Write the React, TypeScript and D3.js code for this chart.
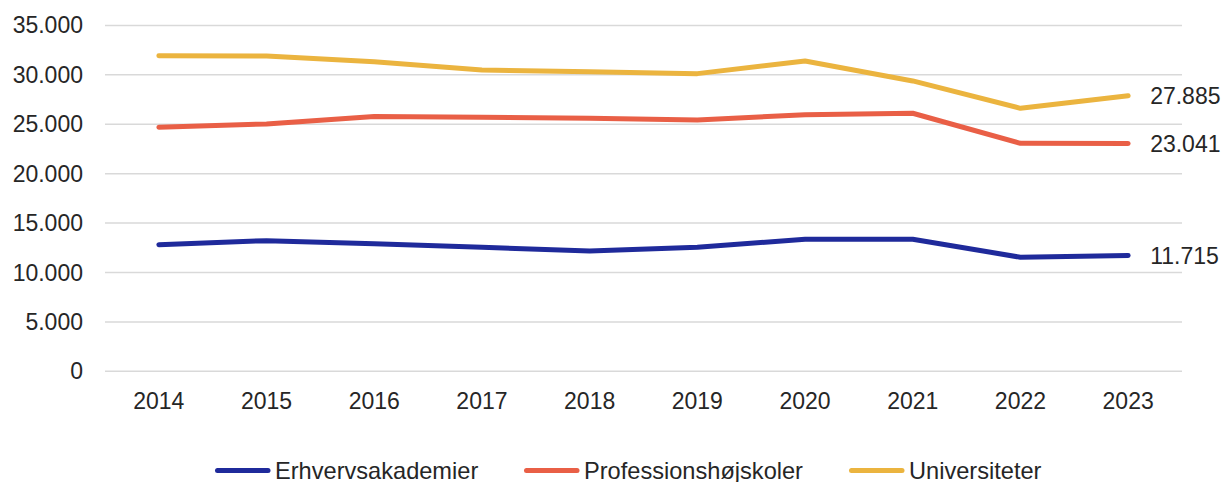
import React, { useEffect, useRef } from "react";
import * as d3 from "d3";

// Data
const years = ["2014", "2015", "2016", "2017", "2018", "2019", "2020", "2021", "2022", "2023"];
const erhvervsakademier = [12810, 13220, 12900, 12550, 12170, 12550, 13360, 13360, 11540, 11715];
const professionshojskoler = [24690, 25030, 25770, 25700, 25600, 25430, 25970, 26110, 23070, 23041];
const universiteter = [31940, 31910, 31320, 30490, 30320, 30120, 31400, 29380, 26610, 27885];
const yTicks = [0, 5000, 10000, 15000, 20000, 25000, 30000, 35000];

const seriesNames = ["Erhvervsakademier", "Professionshøjskoler", "Universiteter"];
const seriesColors = ["#1f2a9b", "#e95f46", "#ebb43f"];

const fmt = (v: number) => d3.format(",")(v).replace(/,/g, ".");

export default function App() {
  const svgRef = useRef<SVGSVGElement | null>(null);

  useEffect(() => {
    if (!svgRef.current) return;
    const svg = d3.select(svgRef.current);
    svg.selectAll("*").remove();

    const width = 1226;
    const height = 482;
    const font = "'Liberation Sans', Arial, sans-serif";
    const textColor = "#262626";

    svg.attr("width", width).attr("height", height);

    const x = d3.scaleBand<string>().domain(years).range([105, 1182]).padding(0);
    const y = d3.scaleLinear().domain([0, 35000]).range([371.3, 25.4]);
    const cx = (yr: string) => (x(yr) as number) + x.bandwidth() / 2;

    // gridlines
    svg
      .append("g")
      .selectAll("line")
      .data(yTicks)
      .join("line")
      .attr("x1", 105)
      .attr("x2", 1182)
      .attr("y1", (d) => y(d))
      .attr("y2", (d) => y(d))
      .attr("stroke", "#d9d9d9")
      .attr("stroke-width", 1.5);

    // y labels
    svg
      .append("g")
      .selectAll("text")
      .data(yTicks)
      .join("text")
      .attr("x", 83)
      .attr("y", (d) => y(d))
      .attr("dy", "0.35em")
      .attr("text-anchor", "end")
      .attr("font-family", font)
      .attr("font-size", 23)
      .attr("fill", textColor)
      .text((d) => fmt(d));

    // x labels
    svg
      .append("g")
      .selectAll("text")
      .data(years)
      .join("text")
      .attr("x", (d) => cx(d))
      .attr("y", 408.5)
      .attr("text-anchor", "middle")
      .attr("font-family", font)
      .attr("font-size", 23)
      .attr("fill", textColor)
      .text((d) => d);

    const allSeries = [erhvervsakademier, professionshojskoler, universiteter];

    const line = d3
      .line<number>()
      .x((_, i) => cx(years[i]))
      .y((d) => y(d));

    allSeries.forEach((vals, i) => {
      svg
        .append("path")
        .datum(vals)
        .attr("fill", "none")
        .attr("stroke", seriesColors[i])
        .attr("stroke-width", 5)
        .attr("stroke-linecap", "round")
        .attr("stroke-linejoin", "round")
        .attr("d", line);

      // end label
      const last = vals[vals.length - 1];
      svg
        .append("text")
        .attr("x", cx(years[years.length - 1]) + 22)
        .attr("y", y(last))
        .attr("dy", "0.35em")
        .attr("font-family", font)
        .attr("font-size", 23)
        .attr("fill", textColor)
        .text(fmt(last));
    });

    // legend
    const legendX = [215, 524, 849];
    const legend = svg.append("g");
    seriesNames.forEach((name, i) => {
      legend
        .append("line")
        .attr("x1", legendX[i] + 2.5)
        .attr("x2", legendX[i] + 53)
        .attr("y1", 470.5)
        .attr("y2", 470.5)
        .attr("stroke", seriesColors[i])
        .attr("stroke-width", 5)
        .attr("stroke-linecap", "round");
      legend
        .append("text")
        .attr("x", legendX[i] + 60)
        .attr("y", 478.5)
        .attr("font-family", font)
        .attr("font-size", 23.6)
        .attr("fill", textColor)
        .text(name);
    });
  }, []);

  return (
    <div style={{ position: "absolute", left: 0, top: 0 }}>
      <svg ref={svgRef} style={{ display: "block" }}></svg>
    </div>
  );
}
